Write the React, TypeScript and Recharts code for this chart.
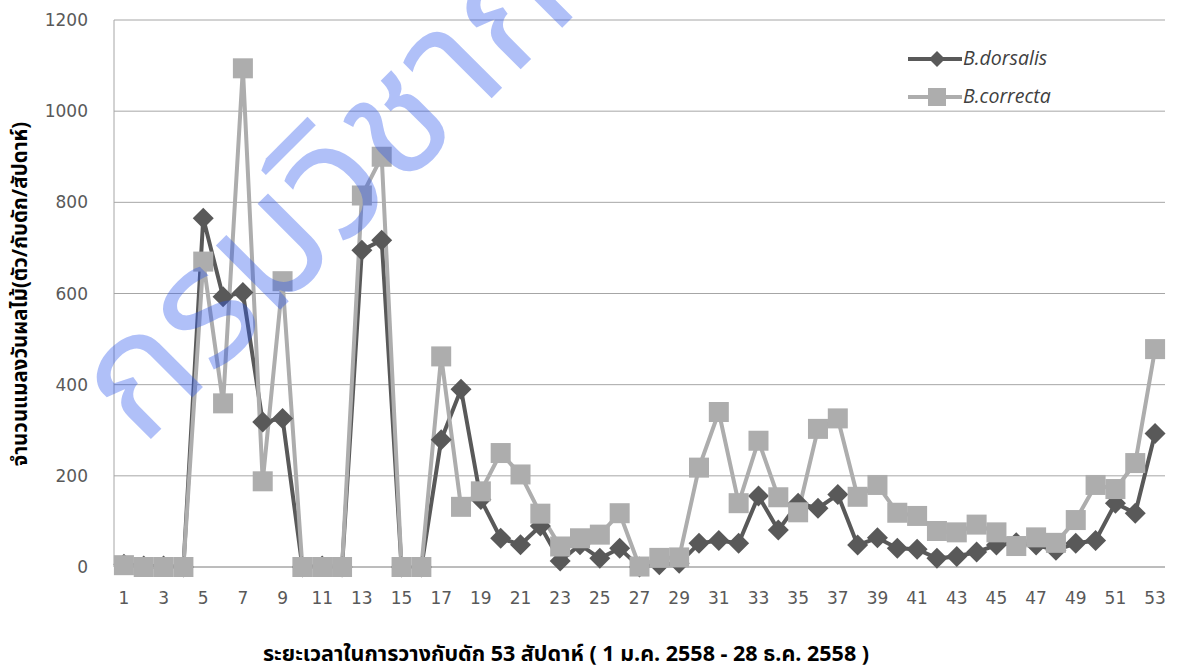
import {
  CartesianGrid,
  Line,
  LineChart,
  XAxis,
  YAxis,
} from "recharts";

// week numbers 1..53
const weeks = [
  "1", "2", "3", "4", "5", "6", "7", "8", "9", "10",
  "11", "12", "13", "14", "15", "16", "17", "18", "19", "20",
  "21", "22", "23", "24", "25", "26", "27", "28", "29", "30",
  "31", "32", "33", "34", "35", "36", "37", "38", "39", "40",
  "41", "42", "43", "44", "45", "46", "47", "48", "49", "50",
  "51", "52", "53",
];

const dorsalis = [
  6, 2, 2, 0, 765, 593, 602, 318, 326, 0,
  2, 0, 695, 717, 0, 0, 279, 390, 148, 63,
  49, 90, 13, 49, 19, 41, 0, 5, 8, 52,
  58, 52, 156, 81, 140, 129, 159, 48, 64, 41,
  39, 19, 23, 33, 48, 53, 48, 37, 52, 58,
  140, 118, 293,
];

const correcta = [
  4, 0, 0, 0, 670, 359, 1094, 188, 627, 0,
  0, 0, 815, 900, 0, 0, 462, 132, 166, 250,
  203, 117, 45, 63, 71, 118, 1, 20, 21, 218,
  340, 140, 277, 153, 120, 303, 326, 154, 180, 119,
  112, 79, 76, 93, 76, 46, 65, 53, 103, 180,
  171, 228, 478,
];

const yTicks = [0, 200, 400, 600, 800, 1000, 1200];

const data = weeks.map((week, i) => ({
  week,
  dorsalis: dorsalis[i],
  correcta: correcta[i],
}));

const DARK = "#595959";
const LIGHT = "#ADADAD";
const GRID = "#A6A6A6";
const THAI = "'Noto Sans Thai', 'Noto Sans Thai UI', Tahoma, 'Noto Sans', sans-serif";

const renderDiamond = (p: any) => {
  const { cx, cy, index } = p;
  if (cx == null || cy == null) return <g key={index} />;
  const r = 10.5;
  return (
    <path
      key={index}
      d={`M${cx},${cy - r}L${cx + r},${cy}L${cx},${cy + r}L${cx - r},${cy}Z`}
      fill={DARK}
    />
  );
};

const renderSquare = (p: any) => {
  const { cx, cy, index } = p;
  if (cx == null || cy == null) return <g key={index} />;
  return (
    <rect key={index} x={cx - 10} y={cy - 10} width={20} height={20} fill={LIGHT} />
  );
};

const tickStyle = {
  fill: DARK,
  fontSize: 17,
  fontFamily: "'DejaVu Sans', sans-serif",
};

export default function App() {
  return (
    <div
      style={{
        position: "fixed",
        left: 0,
        top: 0,
        width: 1177,
        height: 670,
        background: "#fff",
      }}
    >
      <LineChart
        width={1177}
        height={670}
        data={data}
        margin={{ top: 20, right: 12, bottom: 73, left: 0 }}
      >
        <CartesianGrid stroke={GRID} vertical={false} />
        <XAxis
          dataKey="week"
          scale="band"
          interval={1}
          height={30}
          tick={tickStyle}
          tickLine={false}
          tickSize={0}
          tickMargin={25}
          axisLine={{ stroke: GRID }}
        />
        <YAxis
          width={114}
          domain={[0, 1200]}
          ticks={yTicks}
          tick={tickStyle}
          tickLine={false}
          tickSize={0}
          tickMargin={26}
          axisLine={{ stroke: GRID }}
        />
        <Line
          dataKey="dorsalis"
          stroke={DARK}
          strokeWidth={4}
          dot={renderDiamond}
          activeDot={false}
          isAnimationActive={false}
        />
        <Line
          dataKey="correcta"
          stroke={LIGHT}
          strokeWidth={4}
          dot={renderSquare}
          activeDot={false}
          isAnimationActive={false}
        />
      </LineChart>

      <svg
        width={1177}
        height={670}
        style={{ position: "absolute", left: 0, top: 0, pointerEvents: "none" }}
      >
        {/* legend */}
        <g>
          <line x1={908} x2={962} y1={59} y2={59} stroke={DARK} strokeWidth={4} />
          <path d="M937,51L945,59L937,67L929,59Z" fill={DARK} />
          <text
            x={963}
            y={65}
            fontSize={19.5}
            fontStyle="italic"
            fill="#404040"
            fontFamily="'Open Sans', sans-serif"
          >
            B.dorsalis
          </text>
          <line x1={908} x2={962} y1={97} y2={97} stroke={LIGHT} strokeWidth={4} />
          <rect x={928} y={88} width={18} height={18} fill={LIGHT} />
          <text
            x={963}
            y={103}
            fontSize={19.5}
            fontStyle="italic"
            fill="#404040"
            fontFamily="'Open Sans', sans-serif"
          >
            B.correcta
          </text>
        </g>

        {/* axis titles */}
        <text
          x={0}
          y={0}
          transform="translate(27,294) rotate(-90)"
          textAnchor="middle"
          fontSize={20.5}
          fontWeight="bold"
          fill="#000"
          fontFamily={THAI}
        >
          จำนวนแมลงวันผลไม้(ตัว/กับดัก/สัปดาห์)
        </text>
        <text
          x={566}
          y={661}
          textAnchor="middle"
          fontSize={21.5}
          fontWeight="bold"
          fill="#000"
          fontFamily={THAI}
        >
          ระยะเวลาในการวางกับดัก  53 สัปดาห์ ( 1 ม.ค. 2558 - 28  ธ.ค. 2558 )
        </text>

        {/* watermark */}
        <text
          x={0}
          y={0}
          transform="translate(142,448) rotate(-45)"
          fontSize={166}
          fontWeight="normal"
          fill="rgb(40,85,235)"
          fillOpacity={0.37}
          fontFamily={THAI}
        >
          กรมวิชาการเกษตร
        </text>
      </svg>
    </div>
  );
}
